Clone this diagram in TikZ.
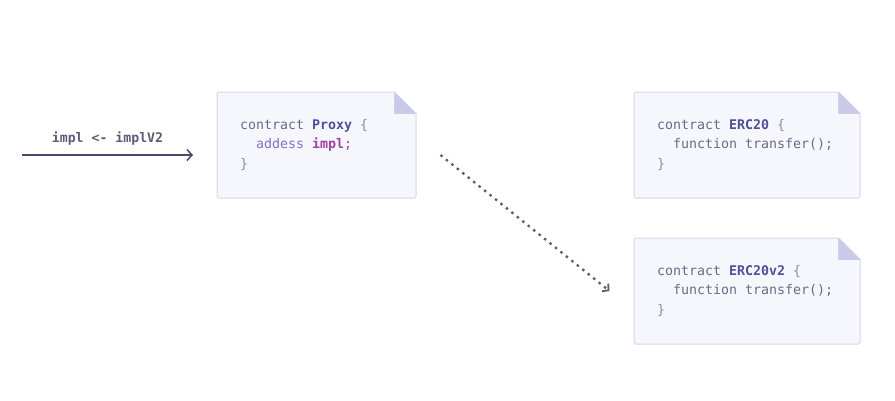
\documentclass[tikz,border=0pt]{standalone}
\usepackage{fontspec}
\setmonofont{DejaVu Sans Mono}
\usepackage{tikz}
\usetikzlibrary{arrows.meta}
\definecolor{boxfill}{HTML}{F6F6FD}
\definecolor{boxline}{HTML}{D6D6EE}
\definecolor{foldcol}{HTML}{C9C9EA}
\definecolor{keycol}{HTML}{6B6B88}
\definecolor{namecol}{HTML}{4F4F9C}
\definecolor{varcol}{HTML}{8272C2}
\definecolor{refcol}{HTML}{A03FA6}
\definecolor{punctcol}{HTML}{8C8CA6}
\definecolor{arrowcol}{HTML}{4A4A68}
\DeclareRobustCommand{\codefont}{\fontsize{13.3}{19.5}\selectfont\ttfamily}
\DeclareRobustCommand{\labelfont}{\fontsize{13.2}{15}\selectfont\ttfamily\bfseries}
\newcommand{\ckey}[1]{\textcolor{keycol}{#1}}
\newcommand{\cname}[1]{\textcolor{namecol}{\textbf{#1}}}
\newcommand{\cvar}[1]{\textcolor{varcol}{#1}}
\newcommand{\cref}[1]{\textcolor{refcol}{#1}}
\newcommand{\cpunct}[1]{\textcolor{punctcol}{#1}}

\begin{document}
\begin{tikzpicture}[x=1pt, y=-1pt, line width=1pt,
        every node/.append style={font=\codefont}]
      \tikzstyle{contract} = [fill=boxfill, draw=boxline, rounded corners=1.5pt, minimum height=106pt, inner xsep=23pt, align=flush left]
      \tikzstyle{fold} = [fill=foldcol]
      \tikzstyle{link} = [arrowcol, line width=1.5pt, -{Straight Barb[length=5pt,width=11pt]}]
      \tikzstyle{hop} = [arrowcol!90, line width=2.3pt, dash pattern=on 2.5pt off 4.5pt, -{Straight Barb[length=4.5pt,width=10pt,line width=1.8pt]}]
      \useasboundingbox [fill=white] (0,0) rectangle (895,400);
      \node (Proxy) [contract, minimum width=199pt, text width=153pt] at (316.5,145)
        {\ckey{contract} \cname{Proxy} \cpunct{\{}\\
         ~~\cvar{addess} \cref{\textbf{impl};}\\
         \cpunct{\}}};
      \node (ERC20) [contract, minimum width=226pt, text width=180pt] at (747,145)
        {\ckey{contract} \cname{ERC20} \cpunct{\{}\\
         ~~\ckey{function transfer();}\\
         \cpunct{\}}};
      \node (ERC20v2) [contract, minimum width=226pt, text width=180pt] at (747,291)
        {\ckey{contract} \cname{ERC20v2} \cpunct{\{}\\
         ~~\ckey{function transfer();}\\
         \cpunct{\}}};
      \foreach \n in {Proxy, ERC20, ERC20v2} {
        \filldraw[white, line width=1.5pt] (\n.north east) -- ([xshift=-22pt]\n.north east) -- ([yshift=-22pt]\n.north east) -- cycle;
        \draw[boxline] ([xshift=-22pt]\n.north east) -- ([xshift=-22pt,yshift=-22pt]\n.north east) -- ([yshift=-22pt]\n.north east);
        \fill[fold] ([xshift=-22pt]\n.north east) -- ([xshift=-22pt,yshift=-22pt]\n.north east) -- ([yshift=-22pt]\n.north east) -- cycle;
      }
      \coordinate (in) at (22,155);
      \coordinate (inend) at (193,155);
      \draw[link] (in) -- node [above=6pt, font=\labelfont, text=arrowcol!90] {impl <- implV2} (inend);
      \draw[hop] ([xshift=24pt,yshift=-10pt]Proxy.east) -- ([xshift=-24pt]ERC20v2.west);
    \end{tikzpicture}
\end{document}
